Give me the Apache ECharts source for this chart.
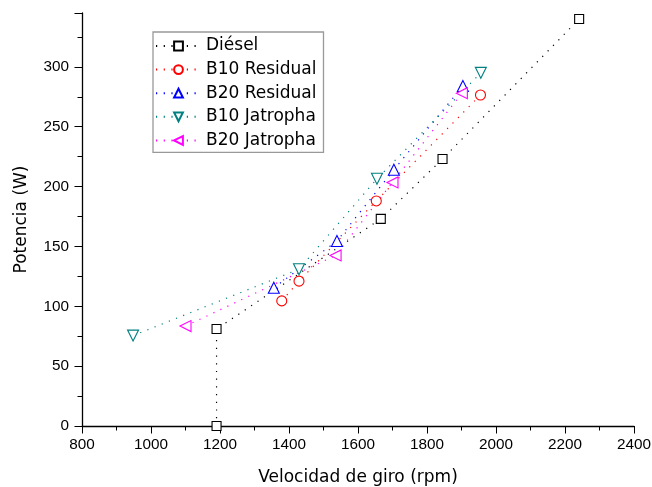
<!DOCTYPE html>
<html>
<head>
<meta charset="utf-8">
<script src="https://cdn.jsdelivr.net/npm/echarts@6/dist/echarts.min.js"></script>
<style>html,body{margin:0;padding:0;background:#fff}#c{width:652px;height:487px}</style>
</head>
<body>
<div id="c"></div>
<script>
var seriesNames = ['Diésel', 'B10 Residual', 'B20 Residual', 'B10 Jatropha', 'B20 Jatropha'];
var diesel = [[1190, 0], [1190, 81], [1666, 173], [1845, 223], [2241, 340]];
var b10Residual = [[1379, 104.5], [1429, 121], [1653, 188], [1955, 276.5]];
var b20Residual = [[1356, 115.5], [1539, 154.5], [1704, 214], [1904, 284]];
var b10Jatropha = [[948, 75.5], [1429, 131], [1655, 206.5], [1956, 295]];
var b20Jatropha = [[1100, 83.5], [1535, 142.5], [1700, 203.5], [1901, 278]];
var xTicks = [800, 1000, 1200, 1400, 1600, 1800, 2000, 2200, 2400];
var yTicks = [0, 50, 100, 150, 200, 250, 300];

var colors = ['#000000', '#ff0000', '#0000ff', '#008080', '#ff00ff'];
var symbols = ['rect', 'circle', 'triangle', 'triangle', 'triangle'];
var rotates = [0, 0, 0, 180, 90];
var sizes = [9, 10, 11, 11, 11];
var datas = [diesel, b10Residual, b20Residual, b10Jatropha, b20Jatropha];

var labelFont = 'Liberation Sans, Arial, sans-serif';
var titleFont = 'DejaVu Sans, sans-serif';
var chart = echarts.init(document.getElementById('c'));
chart.setOption({
  animation: false,
  backgroundColor: '#fff',
  grid: {left: 82, right: 18, top: 13, bottom: 61, containLabel: false, outerBoundsMode: 'none'},
  legend: {
    orient: 'vertical',
    left: 153, top: 32,
    data: seriesNames,
    itemWidth: 45, itemHeight: 11, itemGap: 3.6,
    padding: [4, 7, 2, 2],
    borderColor: '#999', borderWidth: 1.3,
    textStyle: {fontFamily: titleFont, fontSize: 17, lineHeight: 20, color: '#000'}
  },
  xAxis: {
    type: 'value', min: xTicks[0], max: xTicks[xTicks.length - 1], interval: 200,
    name: 'Velocidad de giro (rpm)', nameLocation: 'middle', nameGap: 43,
    nameTextStyle: {fontFamily: titleFont, fontSize: 17, color: '#000'},
    axisLine: {lineStyle: {color: '#000', width: 1.3}},
    axisTick: {inside: false, length: 7.5, lineStyle: {color: '#000'}},
    minorTick: {show: true, splitNumber: 2, length: 4.5, lineStyle: {color: '#000'}},
    axisLabel: {fontFamily: labelFont, fontSize: 15.3, color: '#000', margin: 11,
      formatter: function (v) { return String(v); }},
    splitLine: {show: false}
  },
  yAxis: {
    type: 'value', min: 0, max: 345, interval: 50,
    name: 'Potencia (W)', nameLocation: 'middle', nameGap: 52,
    nameTextStyle: {fontFamily: titleFont, fontSize: 17, color: '#000'},
    axisLine: {show: true, lineStyle: {color: '#000', width: 1.3}},
    axisTick: {show: true, inside: false, length: 7.5, lineStyle: {color: '#000'}},
    minorTick: {show: true, splitNumber: 2, length: 4.5, lineStyle: {color: '#000'}},
    axisLabel: {fontFamily: labelFont, fontSize: 15.3, color: '#000', margin: 13, showMaxLabel: false,
      formatter: function (v) { return String(v); }},
    splitLine: {show: false}
  },
  series: seriesNames.map(function (n, i) {
    return {
      name: n, type: 'line', data: datas[i],
      symbol: symbols[i], symbolSize: sizes[i], symbolRotate: rotates[i],
      color: colors[i],
      lineStyle: {color: colors[i], width: 1.2, type: [1.2, 6.5]},
      itemStyle: {color: '#ffffff', borderColor: colors[i], borderWidth: 1.1}
    };
  })
});
</script>
</body>
</html>
